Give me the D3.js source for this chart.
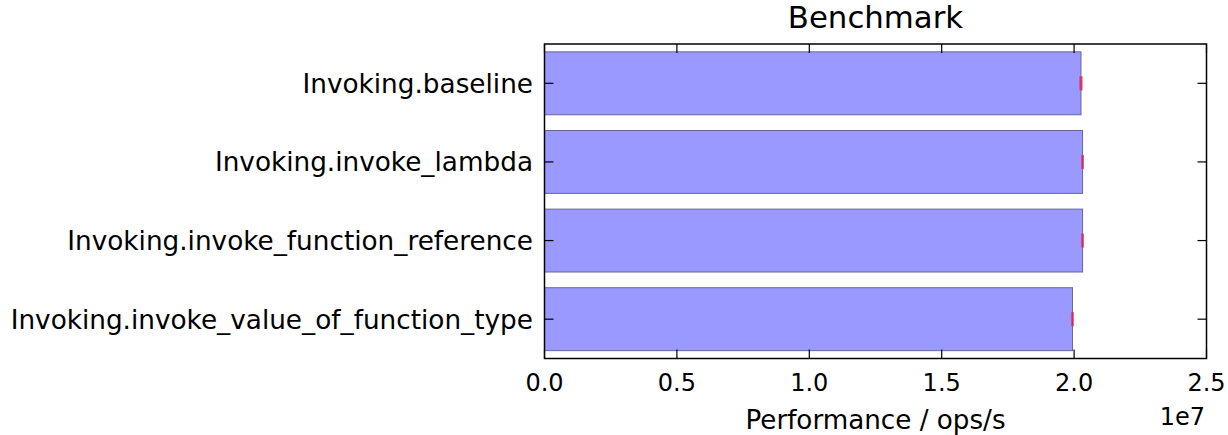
<!DOCTYPE html>
<html>
<head>
<meta charset="utf-8">
<script src="https://cdn.jsdelivr.net/npm/d3@7"></script>
<style>
  html, body { margin: 0; padding: 0; background: #fff; }
  svg text { font-family: "DejaVu Sans", sans-serif; fill: #000; }
</style>
</head>
<body>
<svg id="chart" width="1228" height="435"></svg>
<script>
// Benchmark results (ops/s) with their error margins
const benchmarks = [
  "Invoking.baseline",
  "Invoking.invoke_lambda",
  "Invoking.invoke_function_reference",
  "Invoking.invoke_value_of_function_type"
];
const scores = [20260000, 20320000, 20320000, 19940000];
const errors = [60000, 50000, 50000, 50000];
const xTicks = [0, 0.5e7, 1.0e7, 1.5e7, 2.0e7, 2.5e7];
const xTickLabels = ["0.0", "0.5", "1.0", "1.5", "2.0", "2.5"];

const svg = d3.select("#chart");
const plot = { left: 544.5, right: 1206.5, top: 44, bottom: 358.5 };

const x = d3.scaleLinear().domain([0, 2.5e7]).range([plot.left, plot.right]);
// categories sit at 0..3 from top to bottom, with half a slot of padding
const y = d3.scaleLinear().domain([-0.5, benchmarks.length - 0.5]).range([plot.top, plot.bottom]);
const barH = 0.8;

// bars
svg.append("g").selectAll("rect")
  .data(scores)
  .join("rect")
  .attr("x", x(0))
  .attr("y", (d, i) => y(i - barH / 2))
  .attr("width", d => x(d) - x(0))
  .attr("height", (d, i) => y(i + barH / 2) - y(i - barH / 2))
  .attr("fill", "#9999ff")
  .attr("stroke", "#66669a")
  .attr("stroke-width", 1);

// error markers at the bar ends
svg.append("g").selectAll("rect")
  .data(scores)
  .join("rect")
  .attr("x", (d, i) => x(d - errors[i]))
  .attr("y", (d, i) => y(i) - 7)
  .attr("width", (d, i) => Math.max(2.5, x(d + errors[i]) - x(d - errors[i])))
  .attr("height", 14)
  .attr("fill", "#e8204a")
  .attr("opacity", 0.8);

// inward ticks on all four sides
const tickLen = 9;
const frame = svg.append("g").attr("stroke", "#000").attr("stroke-width", 1.2);
xTicks.forEach(t => {
  frame.append("line").attr("x1", x(t)).attr("x2", x(t))
    .attr("y1", plot.bottom).attr("y2", plot.bottom - tickLen);
  frame.append("line").attr("x1", x(t)).attr("x2", x(t))
    .attr("y1", plot.top).attr("y2", plot.top + tickLen);
});
benchmarks.forEach((b, i) => {
  frame.append("line").attr("x1", plot.left).attr("x2", plot.left + tickLen)
    .attr("y1", y(i)).attr("y2", y(i));
  frame.append("line").attr("x1", plot.right).attr("x2", plot.right - tickLen)
    .attr("y1", y(i)).attr("y2", y(i));
});

// axes box
svg.append("rect")
  .attr("x", plot.left).attr("y", plot.top)
  .attr("width", plot.right - plot.left).attr("height", plot.bottom - plot.top)
  .attr("fill", "none").attr("stroke", "#000").attr("stroke-width", 1.5);

// x tick labels
svg.append("g").selectAll("text")
  .data(xTicks)
  .join("text")
  .attr("x", d => x(d))
  .attr("y", 390.5)
  .attr("text-anchor", "middle")
  .attr("font-size", 24)
  .text((d, i) => xTickLabels[i]);

// category labels
svg.append("g").selectAll("text")
  .data(benchmarks)
  .join("text")
  .attr("x", 533)
  .attr("y", (d, i) => y(i))
  .attr("dy", "0.36em")
  .attr("text-anchor", "end")
  .attr("font-size", 26.3)
  .text(d => d);

// offset label for the x axis
svg.append("text")
  .attr("x", 1205).attr("y", 425)
  .attr("text-anchor", "end")
  .attr("font-size", 24)
  .text("1e7");

// x axis title
svg.append("text")
  .attr("x", (plot.left + plot.right) / 2).attr("y", 429)
  .attr("text-anchor", "middle")
  .attr("font-size", 26.2)
  .text("Performance / ops/s");

// chart title
svg.append("text")
  .attr("x", (plot.left + plot.right) / 2).attr("y", 28)
  .attr("text-anchor", "middle")
  .attr("font-size", 30.8)
  .text("Benchmark");
</script>
</body>
</html>
